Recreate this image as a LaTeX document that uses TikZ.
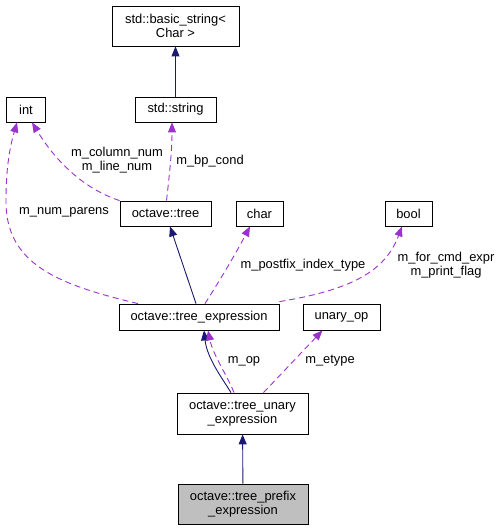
\documentclass[tikz,border=0pt]{standalone}
\usepackage{fontspec}
\setmainfont{Liberation Sans}
\usetikzlibrary{arrows.meta}
\definecolor{inhcol}{HTML}{191970}
\definecolor{usecol}{HTML}{9A32CD}
\definecolor{curcol}{HTML}{BFBFBF}

\begin{document}
\begin{tikzpicture}[x=1pt, y=-1pt,
        every node/.style={font=\fontsize{12.9}{14}\selectfont, align=center, inner sep=0pt},
        cls/.style={draw=black, line width=0.8pt, fill=white},
        inh/.style={-{Triangle[length=10pt,width=8pt]}, line width=0.9pt, inhcol},
        use/.style={-{Triangle[length=10pt,width=8pt]}, line width=0.9pt, usecol, dash pattern=on 6pt off 4pt}]
    \useasboundingbox (0,0) rectangle (501,531);
    % classes
    \node[cls, minimum width=127, minimum height=40] (basic) at (175.5,26) {std::basic\_string<\\Char >};
    \node[cls, minimum width=39, minimum height=25] (int) at (26,109.5) {int};
    \node[cls, minimum width=81, minimum height=25] (string) at (175.5,109.5) {std::string};
    \node[cls, minimum width=91, minimum height=25] (tree) at (165.5,213.5) {octave::tree};
    \node[cls, minimum width=47, minimum height=25] (char) at (259.5,213.5) {char};
    \node[cls, minimum width=47, minimum height=25] (bool) at (408.5,213.5) {bool};
    \node[cls, minimum width=160, minimum height=26] (expr) at (199,317) {octave::tree\_expression};
    \node[cls, minimum width=77, minimum height=26] (unop) at (341.5,317) {unary\_op};
    \node[cls, minimum width=131, minimum height=41] (unary) at (242.5,413.5) {octave::tree\_unary\\\_expression};
    \node[cls, fill=curcol, minimum width=130, minimum height=40] (prefix) at (243,504) {octave::tree\_prefix\\\_expression};
    % inheritance
    \draw[inh] (string) -- (basic);
    \draw[inh] ([xshift=-3]expr.north) -- ([xshift=4.5]tree.south);
    \draw[inh] ([xshift=-11.5]unary.north) .. controls (222,378) and (207,358) .. ([xshift=5]expr.south);
    \draw[inh] (prefix) -- (unary);
    % members
    \draw[use] (tree.north west) .. controls (82,188) and (55,160) .. ([xshift=6]int.south);
    \draw[use] ([xshift=-61]expr.north) .. controls (60,285) and (5,265) .. (6,200) .. controls (6,160) and (12,140) .. ([xshift=-9]int.south);
    \draw[use] ([xshift=1]tree.north) .. controls (170,170) and (172,150) .. ([xshift=-3.5]string.south);
    \draw[use] ([xshift=6]expr.north) .. controls (220,280) and (235,255) .. ([xshift=-9.5]char.south);
    \draw[use] ([yshift=2]expr.north east) .. controls (350,290) and (385,272) .. ([xshift=-6.5]bool.south);
    \draw[use] ([xshift=-8.5]unary.north) .. controls (227,375) and (213,355) .. ([xshift=9]expr.south);
    \draw[use] ([xshift=21]unary.north) -- ([xshift=-19]unop.south);
    % member labels
    \node (lcol) at (117,160) {m\_column\_num\\m\_line\_num};
    \node (lbp) at (210,161) {m\_bp\_cond};
    \node (lpar) at (64,212) {m\_num\_parens};
    \node (lpost) at (303,265) {m\_postfix\_index\_type};
    \node (lflag) at (446,265) {m\_for\_cmd\_expr\\m\_print\_flag};
    \node (lop) at (244,361) {m\_op};
    \node (letype) at (330,361) {m\_etype};
\end{tikzpicture}
\end{document}
